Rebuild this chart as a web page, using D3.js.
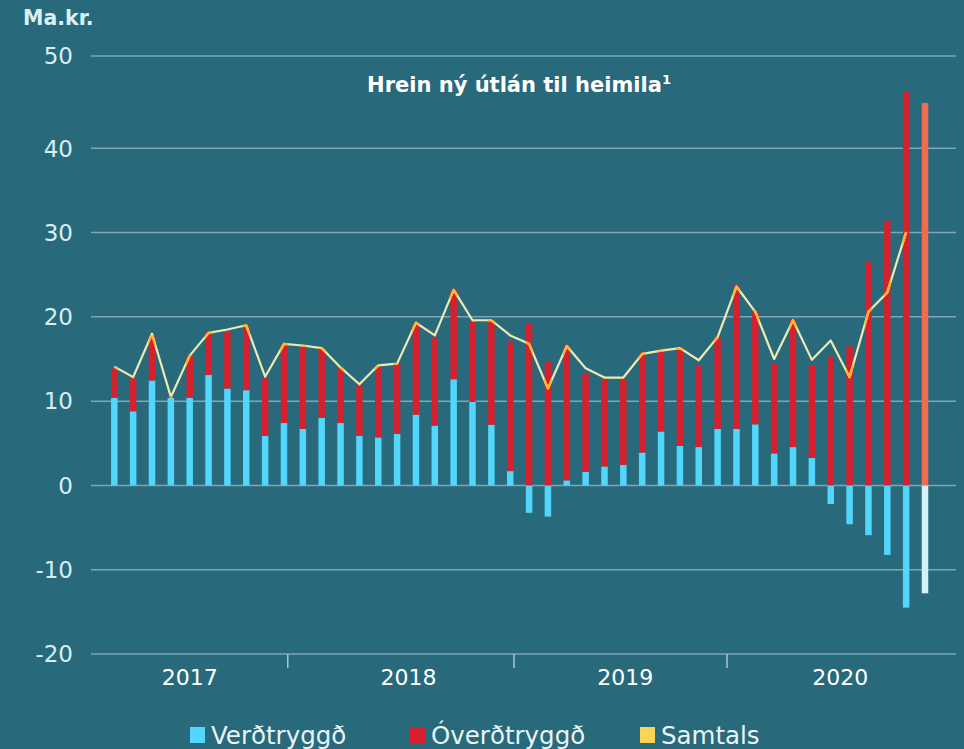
<!DOCTYPE html>
<html>
<head>
<meta charset="utf-8">
<script src="https://cdn.jsdelivr.net/npm/d3@7"></script>
<style>
  body { margin: 0; background: #286a7c; }
  svg { display: block; font-family: "DejaVu Sans", sans-serif; }
</style>
</head>
<body>
<svg id="chart" width="964" height="749"></svg>
<script>
// manaðarleg gögn, mars 2017 - okt 2020 (síðasta súlan sér)
const periods = [
  '2017-03','2017-04','2017-05','2017-06','2017-07','2017-08','2017-09','2017-10','2017-11','2017-12',
  '2018-01','2018-02','2018-03','2018-04','2018-05','2018-06','2018-07','2018-08','2018-09','2018-10','2018-11','2018-12',
  '2019-01','2019-02','2019-03','2019-04','2019-05','2019-06','2019-07','2019-08','2019-09','2019-10','2019-11','2019-12',
  '2020-01','2020-02','2020-03','2020-04','2020-05','2020-06','2020-07','2020-08','2020-09','2020-10'
]
const verdtryggd = [
  10.4, 8.8, 12.45, 10.4, 10.4, 13.1, 11.5, 11.3, 5.9, 7.4,
  6.7, 8.0, 7.4, 5.9, 5.7, 6.1, 8.4, 7.1, 12.6, 9.9, 7.2, 1.7,
  -3.25, -3.7, 0.6, 1.6, 2.25, 2.45, 3.9, 6.4, 4.7, 4.55, 6.7, 6.7,
  7.25, 3.8, 4.55, 3.25, -2.2, -4.6, -5.9, -8.25, -14.5, -12.8
]
const overdtryggd = [
  3.5, 3.9, 5.25, 0.15, 5.0, 5.1, 6.7, 7.7, 6.8, 9.5,
  9.8, 8.2, 6.5, 5.9, 8.4, 8.3, 10.9, 10.4, 10.6, 9.5, 12.3, 15.3,
  19.2, 14.7, 15.95, 11.7, 10.35, 10.15, 11.9, 9.5, 11.5, 9.65, 10.8, 17.1,
  13.45, 10.7, 15.15, 11.05, 15.3, 16.5, 26.5, 31.4, 46.15, 44.9
]
const samtals = [
  14.1, 12.85, 18.0, 10.5, 15.4, 18.1, 18.5, 19.0, 12.9, 16.8,
  16.6, 16.3, 14.0, 12.0, 14.25, 14.45, 19.3, 17.8, 23.2, 19.6, 19.6, 17.8,
  16.8, 11.5, 16.55, 13.9, 12.8, 12.8, 15.6, 16.0, 16.3, 14.85, 17.6, 23.6,
  20.6, 15.0, 19.6, 14.9, 17.2, 12.85, 20.6, 22.9, 30.05
]
const lastPeriod = '2020-10'
const yTicks = [-20, -10, 0, 10, 20, 30, 40, 50]
const years = ['2017', '2018', '2019', '2020']
// staðsetning í súlu-einingum, lesið af myndinni
const yearTickAt = [9.2, 21.2, 32.5]
const yearLabelAt = [4.0, 15.6, 27.1, 38.5]
const legendLabels = ['Verðtryggð', 'Óverðtryggð', 'Samtals']
const legendColors = ['#52d6fb', '#d7202e', '#fdd35a']

const svg = d3.select('#chart')

var x = d3.scalePoint().domain(periods).range([114.3, 925])
var xi = d3.scaleLinear().domain([0, periods.length - 1]).range(x.range())
// efsti hlutinn (40-50) er teygður í upprunalegu myndinni
var y = d3.scaleLinear().domain([-20, 40, 50]).range([654, 148.3, 56])

var bw = 6.5

// gridlines + y labels
svg.append('g').selectAll('line').data(yTicks).join('line')
  .attr('x1', 91).attr('x2', 956)
  .attr('y1', d => y(d)).attr('y2', d => y(d))
  .attr('stroke', '#7ea7b2').attr('stroke-width', 1.5)

svg.append('g').selectAll('text').data(yTicks).join('text')
  .attr('x', 73).attr('y', d => y(d)).attr('dy', '0.36em')
  .attr('text-anchor', 'end')
  .attr('fill', '#d6eef3').attr('font-size', 23)
  .text(d => d < 0 ? '-' + Math.abs(d) : d)

svg.append('text').attr('x', 23).attr('y', 25)
  .attr('fill', '#d9f0f5').attr('font-size', 20.5).attr('font-weight', 700)
  .text('Ma.kr.')

var title = svg.append('text').attr('x', 519).attr('y', 92)
  .attr('text-anchor', 'middle').attr('fill', '#fff')
  .attr('font-size', 21).attr('font-weight', 700)
title.append('tspan').text('Hrein ný útlán til heimila')
title.append('tspan').attr('font-size', 13).attr('dy', -8).text('1')

var rows = periods.map((p, i) => ({
  p, v: verdtryggd[i], o: overdtryggd[i], last: p === lastPeriod
}))

// verðtryggð
svg.append('g').selectAll('rect').data(rows).join('rect')
  .attr('x', d => x(d.p) - bw / 2).attr('width', bw)
  .attr('y', d => y(Math.max(0, d.v)))
  .attr('height', d => Math.abs(y(d.v) - y(0)))
  .attr('fill', d => d.last ? '#d5f2f8' : '#52d6fb')

// óverðtryggð, staflað ofan á jákvæða verðtryggða
function redTop(d){ return d.v > 0 ? d.v + d.o : d.o }
function redBase(d){ return d.v > 0 ? d.v : 0 }

svg.append('g').selectAll('rect').data(rows).join('rect')
  .attr('x', d => x(d.p) - bw / 2).attr('width', bw)
  .attr('y', d => y(redTop(d)))
  .attr('height', d => y(redBase(d)) - y(redTop(d)))
  .attr('fill', d => d.last ? '#f26c52' : '#d7202e')

svg.append('clipPath').attr('id', 'redclip')
  .selectAll('rect').data(rows.filter(d => !d.last)).join('rect')
  .attr('x', d => x(d.p) - bw / 2 - 0.5).attr('width', bw + 1)
  .attr('y', d => y(redTop(d)) - 1)
  .attr('height', d => y(redBase(d)) - y(redTop(d)) + 1)

// samtals lína
var line = d3.line()
  .x((d, i) => x(periods[i]))
  .y(d => y(d))

svg.append('path').datum(samtals)
  .attr('d', line).attr('fill', 'none')
  .attr('stroke', '#eeeab2').attr('stroke-width', 2.2)
  .attr('stroke-linejoin', 'round')

svg.append('path').datum(samtals)
  .attr('d', line).attr('fill', 'none')
  .attr('clip-path', 'url(#redclip)')
  .attr('stroke', '#f9b733').attr('stroke-width', 2.4)
  .attr('stroke-linejoin', 'round')

// x ás: ár
svg.append('g').selectAll('line').data(yearTickAt).join('line')
  .attr('x1', d => xi(d)).attr('x2', d => xi(d))
  .attr('y1', y(-20)).attr('y2', y(-20) + 14)
  .attr('stroke', '#a9c6cd').attr('stroke-width', 1.5)

svg.append('g').selectAll('text').data(years).join('text')
  .attr('x', (d, i) => xi(yearLabelAt[i]))
  .attr('y', 685).attr('text-anchor', 'middle')
  .attr('fill', '#fff').attr('font-size', 22)
  .text(d => d)

// legend
var legX = [190, 410, 640]
var leg = svg.append('g').selectAll('g').data(legendLabels).join('g')
  .attr('transform', (d, i) => `translate(${legX[i]},727)`)
leg.append('rect').attr('width', 15).attr('height', 16)
  .attr('fill', (d, i) => legendColors[i])
leg.append('text').attr('x', 21).attr('y', 8).attr('dy', '0.36em')
  .attr('fill', '#e9f5f7').attr('font-size', 24.5)
  .text(d => d)
</script>
</body>
</html>
